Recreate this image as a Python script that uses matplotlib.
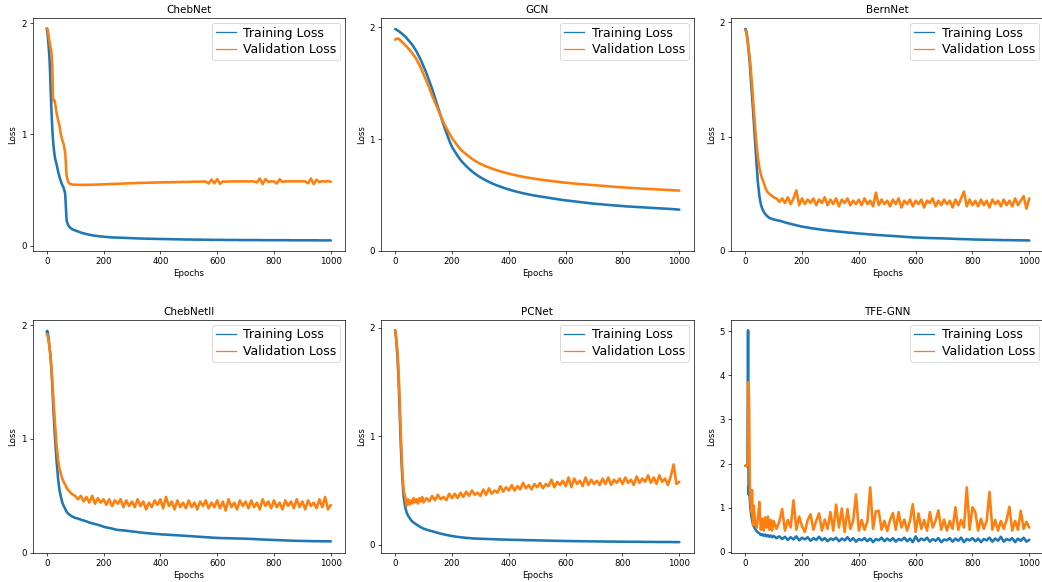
import matplotlib
matplotlib.use("Agg")
import matplotlib.pyplot as plt
from matplotlib.lines import Line2D
from matplotlib.ticker import MultipleLocator

# Epoch grid at which the losses were logged (dense during the early drop)
EPOCHS = list(range(0, 31, 2)) + list(range(35, 101, 5)) + list(range(110, 1001, 10))

MODELS = ["ChebNet", "GCN", "BernNet", "ChebNetII", "PCNet", "TFE-GNN"]

chebnet_train = [
    1.95, 1.93, 1.88, 1.82, 1.75, 1.67, 1.55, 1.40, 1.26, 1.14, 1.04, 0.96, 0.90, 0.85, 0.81, 0.78,
    0.73, 0.67, 0.62, 0.58, 0.545, 0.52, 0.47, 0.23, 0.19, 0.17, 0.16, 0.15, 0.145, 0.14,
    0.130, 0.121, 0.113, 0.107, 0.101, 0.096, 0.092, 0.089, 0.086, 0.083,
    0.081, 0.079, 0.077, 0.076, 0.075, 0.074, 0.073, 0.072, 0.071, 0.070,
    0.069, 0.068, 0.067, 0.066, 0.066, 0.065, 0.064, 0.064, 0.063, 0.063,
    0.062, 0.062, 0.061, 0.061, 0.060, 0.060, 0.059, 0.059, 0.058, 0.058,
    0.058, 0.057, 0.057, 0.057, 0.056, 0.056, 0.056, 0.055, 0.055, 0.055,
    0.055, 0.055, 0.054, 0.054, 0.054, 0.054, 0.054, 0.053, 0.053, 0.053,
    0.053, 0.053, 0.053, 0.053, 0.053, 0.052, 0.052, 0.052, 0.052, 0.052,
    0.052, 0.052, 0.052, 0.052, 0.052, 0.051, 0.051, 0.051, 0.051, 0.051,
    0.051, 0.051, 0.051, 0.051, 0.051, 0.050, 0.050, 0.050, 0.050, 0.050,
]
chebnet_val = [
    1.95, 1.95, 1.93, 1.90, 1.86, 1.83, 1.80, 1.77, 1.75, 1.70, 1.60, 1.32, 1.30, 1.31, 1.30, 1.27,
    1.19, 1.13, 1.08, 1.00, 0.95, 0.91, 0.84, 0.63, 0.58, 0.56, 0.555, 0.55, 0.55, 0.55,
    0.549, 0.548, 0.548, 0.549, 0.549, 0.550, 0.550, 0.551, 0.552, 0.553,
    0.554, 0.555, 0.556, 0.557, 0.558, 0.559, 0.560, 0.561, 0.562, 0.563,
    0.564, 0.565, 0.566, 0.566, 0.567, 0.568, 0.568, 0.569, 0.570, 0.570,
    0.571, 0.572, 0.571, 0.573, 0.572, 0.574, 0.573, 0.575, 0.574, 0.576,
    0.575, 0.577, 0.576, 0.578, 0.577, 0.578, 0.560, 0.596, 0.562, 0.600,
    0.558, 0.579, 0.577, 0.579, 0.578, 0.580, 0.579, 0.580, 0.579, 0.580,
    0.579, 0.580, 0.579, 0.570, 0.605, 0.555, 0.600, 0.575, 0.580, 0.579,
    0.560, 0.598, 0.575, 0.580, 0.579, 0.581, 0.580, 0.579, 0.581, 0.580,
    0.579, 0.562, 0.605, 0.555, 0.595, 0.572, 0.582, 0.578, 0.583, 0.576,
]

gcn_train = [
    1.985, 1.983, 1.980, 1.977, 1.974, 1.970, 1.967, 1.963, 1.960, 1.956, 1.952, 1.948, 1.944, 1.940, 1.936, 1.930,
    1.920, 1.905, 1.890, 1.875, 1.860, 1.845, 1.825, 1.805, 1.785, 1.760, 1.735, 1.710, 1.680, 1.650,
    1.59, 1.52, 1.45, 1.37, 1.29, 1.21, 1.13, 1.06, 0.99, 0.93,
    0.89, 0.85, 0.815, 0.785, 0.76, 0.735, 0.713, 0.693, 0.675, 0.659,
    0.644, 0.631, 0.618, 0.606, 0.595, 0.585, 0.576, 0.567, 0.558, 0.550,
    0.543, 0.536, 0.529, 0.523, 0.517, 0.511, 0.506, 0.501, 0.496, 0.492,
    0.488, 0.484, 0.480, 0.476, 0.472, 0.468, 0.464, 0.460, 0.456, 0.453,
    0.450, 0.447, 0.444, 0.441, 0.438, 0.435, 0.432, 0.429, 0.426, 0.423,
    0.421, 0.419, 0.417, 0.414, 0.412, 0.410, 0.408, 0.406, 0.404, 0.402,
    0.400, 0.398, 0.397, 0.395, 0.394, 0.392, 0.391, 0.389, 0.388, 0.386,
    0.385, 0.383, 0.382, 0.380, 0.379, 0.377, 0.376, 0.374, 0.372, 0.370,
]
gcn_val = [
    1.890, 1.895, 1.900, 1.900, 1.900, 1.900, 1.898, 1.895, 1.890, 1.885, 1.880, 1.875, 1.870, 1.865, 1.860, 1.855,
    1.843, 1.830, 1.815, 1.800, 1.785, 1.770, 1.750, 1.735, 1.715, 1.690, 1.665, 1.640, 1.610, 1.580,
    1.52, 1.46, 1.39, 1.33, 1.27, 1.21, 1.15, 1.10, 1.055, 1.01,
    0.975, 0.94, 0.91, 0.885, 0.865, 0.845, 0.825, 0.808, 0.793, 0.780,
    0.768, 0.757, 0.747, 0.738, 0.729, 0.721, 0.713, 0.706, 0.699, 0.692,
    0.686, 0.680, 0.674, 0.669, 0.664, 0.659, 0.655, 0.651, 0.647, 0.643,
    0.639, 0.636, 0.632, 0.629, 0.626, 0.623, 0.620, 0.617, 0.614, 0.611,
    0.609, 0.606, 0.604, 0.601, 0.599, 0.597, 0.595, 0.593, 0.591, 0.589,
    0.587, 0.585, 0.583, 0.581, 0.579, 0.577, 0.575, 0.573, 0.571, 0.569,
    0.567, 0.566, 0.564, 0.563, 0.561, 0.560, 0.558, 0.557, 0.555, 0.554,
    0.553, 0.551, 0.550, 0.549, 0.547, 0.546, 0.545, 0.543, 0.542, 0.540,
]

bernnet_train = [
    1.94, 1.94, 1.92, 1.89, 1.85, 1.80, 1.75, 1.70, 1.64, 1.57, 1.50, 1.43, 1.36, 1.29, 1.22, 1.14,
    0.95, 0.76, 0.59, 0.48, 0.41, 0.37, 0.345, 0.325, 0.31, 0.30, 0.29, 0.285, 0.28, 0.275,
    0.270, 0.265, 0.258, 0.250, 0.243, 0.237, 0.231, 0.225, 0.219, 0.213,
    0.209, 0.205, 0.201, 0.197, 0.193, 0.190, 0.186, 0.183, 0.180, 0.177,
    0.175, 0.172, 0.170, 0.167, 0.165, 0.162, 0.160, 0.158, 0.155, 0.153,
    0.151, 0.149, 0.147, 0.145, 0.143, 0.141, 0.139, 0.138, 0.136, 0.134,
    0.133, 0.131, 0.130, 0.128, 0.126, 0.124, 0.122, 0.121, 0.119, 0.118,
    0.117, 0.116, 0.115, 0.114, 0.113, 0.113, 0.112, 0.111, 0.111, 0.110,
    0.109, 0.108, 0.107, 0.106, 0.105, 0.104, 0.104, 0.103, 0.102, 0.101,
    0.100, 0.100, 0.099, 0.099, 0.098, 0.098, 0.097, 0.097, 0.096, 0.096,
    0.095, 0.095, 0.095, 0.094, 0.094, 0.094, 0.093, 0.093, 0.093, 0.092,
]
bernnet_val = [
    1.93, 1.93, 1.91, 1.88, 1.85, 1.81, 1.77, 1.73, 1.69, 1.64, 1.58, 1.52, 1.46, 1.39, 1.32, 1.25,
    1.08, 0.93, 0.81, 0.73, 0.67, 0.63, 0.60, 0.56, 0.53, 0.51, 0.50, 0.49, 0.48, 0.47,
    0.46, 0.43, 0.46, 0.42, 0.47, 0.41, 0.46, 0.53, 0.40, 0.46,
    0.41, 0.45, 0.42, 0.46, 0.40, 0.45, 0.42, 0.47, 0.40, 0.45,
    0.41, 0.46, 0.39, 0.45, 0.42, 0.46, 0.40, 0.44, 0.41, 0.45,
    0.40, 0.46, 0.41, 0.44, 0.39, 0.51, 0.40, 0.45, 0.41, 0.44,
    0.39, 0.45, 0.41, 0.46, 0.38, 0.44, 0.41, 0.45, 0.39, 0.44,
    0.41, 0.45, 0.38, 0.44, 0.42, 0.46, 0.39, 0.44, 0.40, 0.45,
    0.41, 0.44, 0.38, 0.45, 0.40, 0.46, 0.52, 0.39, 0.45, 0.40,
    0.44, 0.39, 0.45, 0.40, 0.44, 0.38, 0.45, 0.41, 0.44, 0.39,
    0.45, 0.40, 0.44, 0.39, 0.46, 0.40, 0.44, 0.48, 0.37, 0.46,
]

chebnetii_train = [
    1.94, 1.95, 1.93, 1.90, 1.85, 1.80, 1.76, 1.70, 1.63, 1.55, 1.45, 1.34, 1.24, 1.15, 1.06, 0.98,
    0.80, 0.65, 0.55, 0.49, 0.44, 0.41, 0.385, 0.36, 0.345, 0.335, 0.325, 0.318, 0.312, 0.306,
    0.300, 0.290, 0.283, 0.275, 0.265, 0.258, 0.252, 0.245, 0.238, 0.228,
    0.222, 0.217, 0.212, 0.205, 0.200, 0.198, 0.196, 0.193, 0.190, 0.187,
    0.184, 0.181, 0.178, 0.175, 0.172, 0.170, 0.168, 0.166, 0.164, 0.162,
    0.160, 0.159, 0.157, 0.156, 0.154, 0.153, 0.151, 0.150, 0.148, 0.146,
    0.145, 0.143, 0.141, 0.140, 0.138, 0.136, 0.135, 0.133, 0.131, 0.130,
    0.129, 0.128, 0.128, 0.127, 0.126, 0.126, 0.125, 0.124, 0.124, 0.123,
    0.122, 0.121, 0.120, 0.119, 0.117, 0.116, 0.115, 0.114, 0.113, 0.112,
    0.111, 0.110, 0.109, 0.108, 0.107, 0.106, 0.105, 0.104, 0.104, 0.103,
    0.103, 0.102, 0.102, 0.101, 0.101, 0.101, 0.100, 0.100, 0.100, 0.100,
]
chebnetii_val = [
    1.92, 1.92, 1.90, 1.87, 1.84, 1.80, 1.76, 1.71, 1.65, 1.58, 1.50, 1.42, 1.34, 1.26, 1.18, 1.11,
    0.94, 0.82, 0.74, 0.69, 0.65, 0.62, 0.60, 0.57, 0.55, 0.54, 0.525, 0.515, 0.505, 0.50,
    0.47, 0.50, 0.45, 0.49, 0.44, 0.50, 0.43, 0.48, 0.44, 0.47,
    0.42, 0.47, 0.41, 0.46, 0.43, 0.47, 0.40, 0.46, 0.41, 0.45,
    0.40, 0.47, 0.41, 0.45, 0.38, 0.44, 0.40, 0.46, 0.42, 0.47,
    0.39, 0.49, 0.41, 0.45, 0.38, 0.46, 0.40, 0.44, 0.39, 0.46,
    0.40, 0.44, 0.38, 0.45, 0.41, 0.46, 0.39, 0.44, 0.40, 0.46,
    0.39, 0.45, 0.37, 0.47, 0.40, 0.44, 0.38, 0.46, 0.41, 0.45,
    0.39, 0.46, 0.40, 0.44, 0.38, 0.47, 0.41, 0.45, 0.39, 0.46,
    0.40, 0.44, 0.38, 0.46, 0.41, 0.45, 0.39, 0.47, 0.40, 0.45,
    0.38, 0.46, 0.41, 0.44, 0.39, 0.47, 0.40, 0.49, 0.38, 0.42,
]

pcnet_train = [
    1.975, 1.93, 1.87, 1.80, 1.73, 1.62, 1.50, 1.36, 1.20, 1.05, 0.90, 0.78, 0.67, 0.58, 0.50, 0.44,
    0.35, 0.30, 0.27, 0.25, 0.23, 0.215, 0.205, 0.195, 0.187, 0.178, 0.170, 0.162, 0.155, 0.149,
    0.140, 0.132, 0.125, 0.118, 0.110, 0.103, 0.097, 0.091, 0.086, 0.081,
    0.077, 0.073, 0.070, 0.067, 0.064, 0.062, 0.060, 0.058, 0.057, 0.056,
    0.055, 0.054, 0.053, 0.052, 0.051, 0.050, 0.049, 0.048, 0.048, 0.047,
    0.046, 0.046, 0.045, 0.045, 0.044, 0.043, 0.043, 0.042, 0.042, 0.041,
    0.040, 0.040, 0.039, 0.039, 0.038, 0.037, 0.037, 0.036, 0.036, 0.035,
    0.035, 0.034, 0.034, 0.034, 0.033, 0.033, 0.033, 0.032, 0.032, 0.032,
    0.031, 0.031, 0.031, 0.030, 0.030, 0.030, 0.030, 0.029, 0.029, 0.029,
    0.029, 0.028, 0.028, 0.028, 0.028, 0.028, 0.027, 0.027, 0.027, 0.027,
    0.027, 0.026, 0.026, 0.026, 0.026, 0.026, 0.026, 0.025, 0.025, 0.025,
]
pcnet_val = [
    1.97, 1.96, 1.88, 1.83, 1.78, 1.70, 1.58, 1.45, 1.32, 1.16, 1.00, 0.87, 0.75, 0.64, 0.56, 0.50,
    0.44, 0.36, 0.42, 0.37, 0.41, 0.38, 0.43, 0.39, 0.42, 0.38, 0.43, 0.40, 0.44, 0.39,
    0.43, 0.40, 0.45, 0.41, 0.46, 0.42, 0.44, 0.41, 0.47, 0.43,
    0.47, 0.43, 0.48, 0.44, 0.49, 0.45, 0.50, 0.46, 0.48, 0.45,
    0.51, 0.46, 0.52, 0.47, 0.50, 0.48, 0.54, 0.49, 0.53, 0.50,
    0.55, 0.50, 0.54, 0.51, 0.57, 0.52, 0.55, 0.51, 0.56, 0.53,
    0.57, 0.52, 0.56, 0.54, 0.60, 0.53, 0.58, 0.55, 0.59, 0.54,
    0.62, 0.53, 0.61, 0.56, 0.59, 0.54, 0.62, 0.55, 0.60, 0.56,
    0.59, 0.55, 0.61, 0.56, 0.62, 0.55, 0.60, 0.57, 0.61, 0.56,
    0.62, 0.57, 0.60, 0.55, 0.63, 0.57, 0.61, 0.58, 0.64, 0.57,
    0.62, 0.56, 0.64, 0.58, 0.61, 0.55, 0.63, 0.74, 0.56, 0.58,
]

tfe_train = [
    1.95, 1.95, 1.95, 1.94, 1.95, 5.02, 1.30, 1.50, 1.20, 1.00, 0.90, 0.80, 0.72, 0.66, 0.62, 0.58,
    0.52, 0.47, 0.44, 0.42, 0.38, 0.40, 0.36, 0.39, 0.35, 0.38, 0.34, 0.37, 0.33, 0.36,
    0.31, 0.35, 0.29, 0.34, 0.27, 0.33, 0.28, 0.35, 0.26, 0.32,
    0.28, 0.33, 0.25, 0.31, 0.27, 0.34, 0.26, 0.31, 0.24, 0.30,
    0.27, 0.32, 0.24, 0.30, 0.26, 0.33, 0.25, 0.31, 0.23, 0.29,
    0.26, 0.31, 0.24, 0.30, 0.22, 0.29, 0.26, 0.32, 0.24, 0.30,
    0.25, 0.31, 0.23, 0.29, 0.26, 0.32, 0.24, 0.30, 0.22, 0.35,
    0.24, 0.30, 0.26, 0.32, 0.23, 0.29, 0.25, 0.31, 0.22, 0.28,
    0.26, 0.31, 0.23, 0.30, 0.25, 0.32, 0.22, 0.29, 0.26, 0.31,
    0.24, 0.30, 0.22, 0.29, 0.26, 0.32, 0.23, 0.30, 0.25, 0.34,
    0.23, 0.29, 0.26, 0.31, 0.22, 0.30, 0.25, 0.32, 0.23, 0.27,
]
tfe_val = [
    1.95, 1.95, 1.94, 1.95, 1.96, 2.00, 3.85, 3.20, 1.60, 1.20, 1.05, 0.90, 1.40, 0.80, 0.60, 1.05,
    0.65, 0.55, 0.78, 1.13, 0.50, 0.75, 0.48, 0.78, 0.55, 0.80, 0.50, 0.72, 0.48, 0.70,
    0.52, 0.68, 0.97, 0.48, 0.72, 0.55, 1.17, 0.50, 0.80, 0.58,
    0.45, 0.72, 0.85, 0.50, 0.70, 0.87, 0.48, 0.73, 0.52, 0.90,
    0.48, 1.07, 0.55, 0.98, 0.45, 0.97, 0.52, 0.70, 1.30, 0.48,
    0.72, 0.50, 0.68, 1.46, 0.52, 0.92, 0.93, 0.50, 0.70, 0.47,
    0.72, 0.88, 0.50, 0.90, 0.55, 0.73, 0.48, 0.70, 1.08, 0.45,
    0.87, 0.52, 0.72, 0.48, 0.90, 0.55, 0.70, 0.94, 0.50, 0.73,
    0.48, 0.70, 0.52, 1.01, 0.50, 0.72, 0.55, 1.46, 0.50, 1.01,
    0.90, 0.48, 0.75, 0.52, 0.70, 1.36, 0.50, 0.72, 0.48, 0.70,
    0.52, 0.72, 1.02, 0.48, 0.70, 0.50, 0.93, 0.52, 0.68, 0.55,
]

TRAIN = [chebnet_train, gcn_train, bernnet_train, chebnetii_train, pcnet_train, tfe_train]
VAL = [chebnet_val, gcn_val, bernnet_val, chebnetii_val, pcnet_val, tfe_val]

# Panels whose loss axis starts exactly at zero
ZERO_BASED = {"GCN", "BernNet", "ChebNetII"}

BLUE, ORANGE = "#1f77b4", "#ff7f0e"

# Figure drawn at a reduced dpi so the default font sizes come out small
DPI = 62
W, H = 1042, 582
fig = plt.figure(figsize=(W / DPI, H / DPI), dpi=DPI)

lefts = [32.5, 381.0, 731.0]
bottoms = [331.0, 29.3]
ax_w, ax_h = 312.5, 233.0

line_kw = dict(linewidth=3.0, solid_joinstyle="round", solid_capstyle="round")
handles = [Line2D([], [], color=BLUE, linewidth=1.5),
           Line2D([], [], color=ORANGE, linewidth=1.5)]

for i, name in enumerate(MODELS):
    r, c = divmod(i, 3)
    ax = fig.add_axes([lefts[c] / W, bottoms[r] / H, ax_w / W, ax_h / H])
    ax.plot(EPOCHS, TRAIN[i], color=BLUE, **line_kw)
    ax.plot(EPOCHS, VAL[i], color=ORANGE, **line_kw)
    if name in ZERO_BASED:
        top = max(max(TRAIN[i]), max(VAL[i]))
        ax.set_ylim(0, top * 1.05)
    ax.set_title(name)
    ax.set_xlabel("Epochs")
    ax.set_ylabel("Loss")
    ax.yaxis.set_major_locator(MultipleLocator(1))
    ax.legend(handles, ["Training Loss", "Validation Loss"], loc="upper right",
              fontsize=14.5, handlelength=1.6, handletextpad=0.6,
              borderpad=0.3, labelspacing=0.3, borderaxespad=0.4)

fig.savefig("out.png", dpi=DPI)
